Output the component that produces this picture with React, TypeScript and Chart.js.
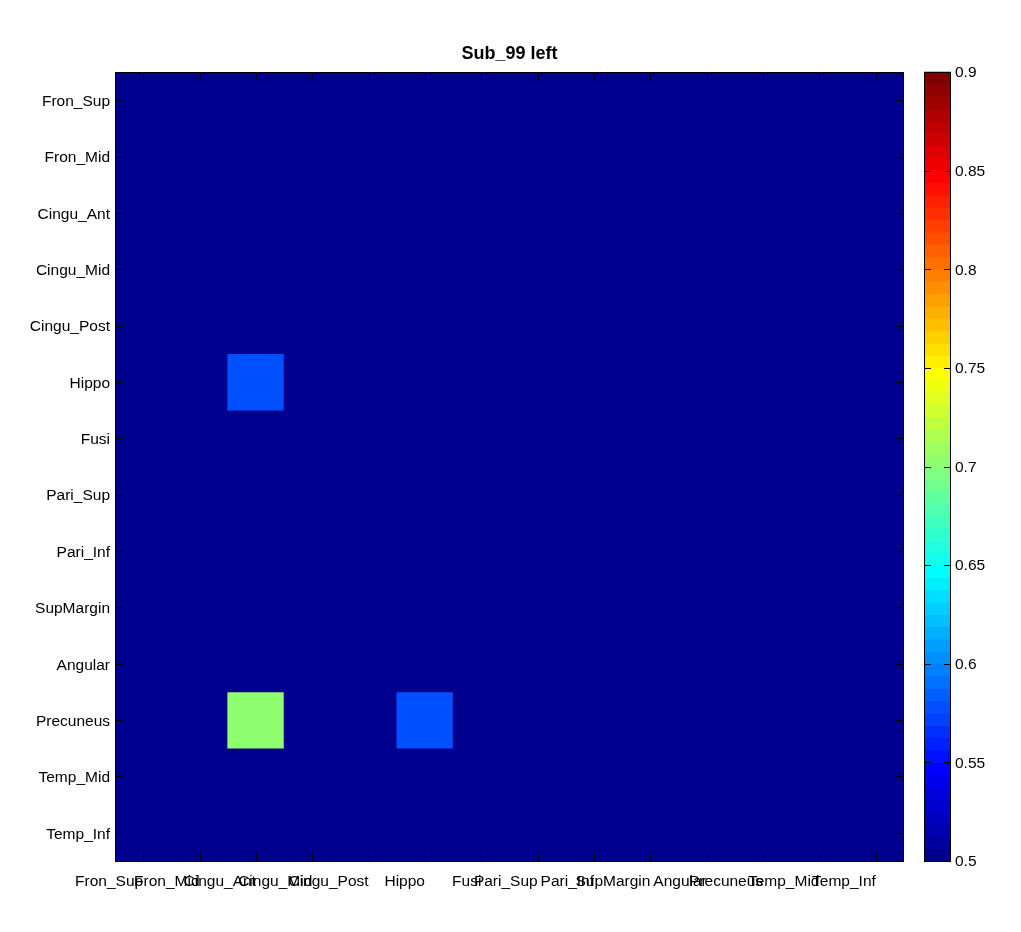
import React, { useEffect, useRef } from "react";
import { Chart, registerables } from "chart.js";

Chart.register(...registerables);

// ---- data ----
const rowLabels = [
  "Fron_Sup", "Fron_Mid", "Cingu_Ant", "Cingu_Mid", "Cingu_Post", "Hippo", "Fusi",
  "Pari_Sup", "Pari_Inf", "SupMargin", "Angular", "Precuneus", "Temp_Mid", "Temp_Inf",
];
const colLabels = [
  "Fron_Sup", "Fron_Mid", "Cingu_Ant", "Cingu_Mid", "Cingu_Post", "Hippo", "Fusi",
  "Pari_Sup", "Pari_Inf", "SupMargin", "Angular", "Precuneus", "Temp_Mid", "Temp_Inf",
];
const titleText = "Sub_99 left";
const colorMin = 0.5;
const colorMax = 0.9;
const colorbarTicks = [0.5, 0.55, 0.6, 0.65, 0.7, 0.75, 0.8, 0.85, 0.9];

// connectivity values (rows x columns); values at/below 0.5 show as the darkest colour
const rowFronSup = [0.5, 0.5, 0.5, 0.5, 0.5, 0.5, 0.5, 0.5, 0.5, 0.5, 0.5, 0.5, 0.5, 0.5];
const rowFronMid = [0.5, 0.5, 0.5, 0.5, 0.5, 0.5, 0.5, 0.5, 0.5, 0.5, 0.5, 0.5, 0.5, 0.5];
const rowCinguAnt = [0.5, 0.5, 0.5, 0.5, 0.5, 0.5, 0.5, 0.5, 0.5, 0.5, 0.5, 0.5, 0.5, 0.5];
const rowCinguMid = [0.5, 0.5, 0.5, 0.5, 0.5, 0.5, 0.5, 0.5, 0.5, 0.5, 0.5, 0.5, 0.5, 0.5];
const rowCinguPost = [0.5, 0.5, 0.5, 0.5, 0.5, 0.5, 0.5, 0.5, 0.5, 0.5, 0.5, 0.5, 0.5, 0.5];
const rowHippo = [0.5, 0.5, 0.578, 0.5, 0.5, 0.5, 0.5, 0.5, 0.5, 0.5, 0.5, 0.5, 0.5, 0.5];
const rowFusi = [0.5, 0.5, 0.5, 0.5, 0.5, 0.5, 0.5, 0.5, 0.5, 0.5, 0.5, 0.5, 0.5, 0.5];
const rowPariSup = [0.5, 0.5, 0.5, 0.5, 0.5, 0.5, 0.5, 0.5, 0.5, 0.5, 0.5, 0.5, 0.5, 0.5];
const rowPariInf = [0.5, 0.5, 0.5, 0.5, 0.5, 0.5, 0.5, 0.5, 0.5, 0.5, 0.5, 0.5, 0.5, 0.5];
const rowSupMargin = [0.5, 0.5, 0.5, 0.5, 0.5, 0.5, 0.5, 0.5, 0.5, 0.5, 0.5, 0.5, 0.5, 0.5];
const rowAngular = [0.5, 0.5, 0.5, 0.5, 0.5, 0.5, 0.5, 0.5, 0.5, 0.5, 0.5, 0.5, 0.5, 0.5];
const rowPrecuneus = [0.5, 0.5, 0.706, 0.5, 0.5, 0.578, 0.5, 0.5, 0.5, 0.5, 0.5, 0.5, 0.5, 0.5];
const rowTempMid = [0.5, 0.5, 0.5, 0.5, 0.5, 0.5, 0.5, 0.5, 0.5, 0.5, 0.5, 0.5, 0.5, 0.5];
const rowTempInf = [0.5, 0.5, 0.5, 0.5, 0.5, 0.5, 0.5, 0.5, 0.5, 0.5, 0.5, 0.5, 0.5, 0.5];

const values = [
  rowFronSup, rowFronMid, rowCinguAnt, rowCinguMid, rowCinguPost, rowHippo, rowFusi,
  rowPariSup, rowPariInf, rowSupMargin, rowAngular, rowPrecuneus, rowTempMid, rowTempInf,
];

// ---- MATLAB jet(64) colormap ----
const N_COLORS = 64;
function jetColor(i: number): string {
  let r = 0, g = 0, b = 0;
  if (i < 8) { b = 0.5625 + i * 0.0625; }
  else if (i < 24) { g = (i - 7) / 16; b = 1; }
  else if (i < 40) { r = (i - 23) / 16; g = 1; b = 1 - (i - 23) / 16; }
  else if (i < 56) { r = 1; g = 1 - (i - 39) / 16; }
  else { r = 1 - (i - 55) / 16; }
  const c = (v: number) => Math.round(Math.max(0, Math.min(1, v)) * 255);
  return `rgb(${c(r)},${c(g)},${c(b)})`;
}
function colorFor(v: number): string {
  let idx = Math.floor(((v - colorMin) / (colorMax - colorMin)) * N_COLORS);
  idx = Math.max(0, Math.min(N_COLORS - 1, idx));
  return jetColor(idx);
}

const FONT = "'Liberation Sans', Arial, Helvetica, sans-serif";

const heatmapDecor = {
  id: "heatmapDecor",
  beforeDatasetsDraw(chart: any) {
    const { ctx, chartArea } = chart;
    ctx.save();
    ctx.fillStyle = jetColor(0);
    ctx.fillRect(chartArea.left, chartArea.top, chartArea.right - chartArea.left, chartArea.bottom - chartArea.top);
    ctx.restore();
  },
  afterDatasetsDraw(chart: any) {
    const { ctx, chartArea } = chart;
    const xs = chart.scales.x;
    const ys = chart.scales.y;
    const cb = chart.scales.cb;
    const tick = 8;
    ctx.save();
    ctx.strokeStyle = "#000";
    ctx.lineWidth = 1;
    // inner tick marks
    ctx.beginPath();
    colLabels.forEach((_, c) => {
      const x = Math.round(xs.getPixelForValue(c)) + 0.5;
      ctx.moveTo(x, chartArea.top); ctx.lineTo(x, chartArea.top + tick);
      ctx.moveTo(x, chartArea.bottom); ctx.lineTo(x, chartArea.bottom - tick);
    });
    rowLabels.forEach((_, r) => {
      const y = Math.round(ys.getPixelForValue(r + 0.5)) + 0.5;
      ctx.moveTo(chartArea.left, y); ctx.lineTo(chartArea.left + tick, y);
      ctx.moveTo(chartArea.right, y); ctx.lineTo(chartArea.right - tick, y);
    });
    ctx.stroke();
    // axes box
    ctx.strokeRect(chartArea.left + 0.5, chartArea.top + 0.5, chartArea.right - chartArea.left - 1, chartArea.bottom - chartArea.top);

    // colorbar
    const cbLeft = chartArea.right + 20;
    const cbRight = cbLeft + 27;
    for (let i = 0; i < N_COLORS; i++) {
      const v0 = colorMin + ((colorMax - colorMin) * i) / N_COLORS;
      const v1 = colorMin + ((colorMax - colorMin) * (i + 1)) / N_COLORS;
      const y0 = cb.getPixelForValue(v0);
      const y1 = cb.getPixelForValue(v1);
      ctx.fillStyle = jetColor(i);
      ctx.fillRect(cbLeft, Math.min(y0, y1) - 0.3, cbRight - cbLeft, Math.abs(y1 - y0) + 0.6);
    }
    ctx.beginPath();
    colorbarTicks.forEach((v) => {
      const y = Math.round(cb.getPixelForValue(v)) + 0.5;
      ctx.moveTo(cbLeft, y); ctx.lineTo(cbLeft + 7, y);
      ctx.moveTo(cbRight, y); ctx.lineTo(cbRight - 7, y);
    });
    ctx.stroke();
    ctx.strokeRect(cbLeft + 0.5, chartArea.top + 0.5, cbRight - cbLeft - 1, chartArea.bottom - chartArea.top);
    ctx.restore();
  },
};

export default function App() {
  const ref = useRef<HTMLCanvasElement | null>(null);
  useEffect(() => {
    if (!ref.current) return;
    Chart.defaults.font.family = FONT;
    const datasets = rowLabels.map((row, r) => ({
      label: row,
      data: colLabels.map(() => [r, r + 1]),
      backgroundColor: colLabels.map((_, c) => colorFor(values[r][c])),
      borderWidth: 0,
      grouped: false,
      barPercentage: 1,
      categoryPercentage: 1,
    }));
    const chart = new Chart(ref.current, {
      type: "bar",
      data: { labels: colLabels, datasets: datasets as any },
      options: {
        responsive: false,
        animation: false,
        events: [],
        layout: { padding: 0 },
        plugins: {
          legend: { display: false },
          tooltip: { enabled: false },
          title: {
            display: true,
            text: titleText,
            fullSize: false,
            color: "#000",
            font: { size: 18, weight: "bold", family: FONT },
            padding: { top: 43.2, bottom: 7.2 },
          },
        },
        scales: {
          x: {
            type: "category",
            offset: true,
            grid: { display: false, drawTicks: false },
            border: { display: false },
            ticks: {
              autoSkip: false,
              maxRotation: 0,
              minRotation: 0,
              align: "end",
              padding: 11,
              color: "#000",
              font: { size: 15.5, family: FONT },
            },
            afterFit: (s: any) => { s.height = 71; },
          },
          y: {
            type: "linear",
            min: 0,
            max: rowLabels.length,
            reverse: true,
            grid: { display: false, drawTicks: false },
            border: { display: false },
            afterBuildTicks: (s: any) => { s.ticks = rowLabels.map((_, i) => ({ value: i + 0.5 })); },
            ticks: {
              callback: (_v: any, i: number) => rowLabels[i],
              padding: 5,
              labelOffset: 1.5,
              color: "#000",
              font: { size: 15.5, family: FONT },
            },
            afterFit: (s: any) => { s.width = 115; },
          },
          cb: {
            type: "linear",
            position: "right",
            min: colorMin,
            max: colorMax,
            grid: { display: false, drawTicks: false },
            border: { display: false },
            afterBuildTicks: (s: any) => { s.ticks = colorbarTicks.map((v) => ({ value: v })); },
            ticks: {
              callback: (v: any) => String(+Number(v).toFixed(2)),
              padding: 51,
              labelOffset: 1,
              color: "#000",
              font: { size: 15.5, family: FONT },
            },
            afterFit: (s: any) => { s.width = 117; },
          },
        },
      } as any,
      plugins: [heatmapDecor],
    });
    return () => chart.destroy();
  }, []);
  return (
    <canvas
      ref={ref}
      width={1021}
      height={932}
      style={{ position: "fixed", left: 0, top: 0, width: 1021, height: 932, background: "#fff" }}
    />
  );
}
